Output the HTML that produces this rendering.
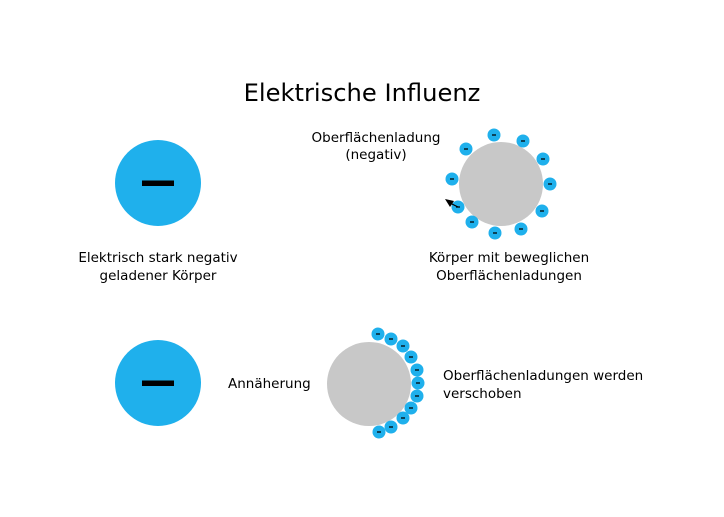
<!DOCTYPE html>
<html><head><style>body{margin:0;background:#fff}</style></head><body>
<svg width="724" height="512" xmlns="http://www.w3.org/2000/svg" font-family="'DejaVu Sans','Liberation Sans',sans-serif">
<rect width="724" height="512" fill="#fff"/>
<text x="362" y="101" font-size="24.2" text-anchor="middle" fill="#000">Elektrische Influenz</text>
<circle cx="158" cy="183" r="43" fill="#1fb0ec"/>
<rect x="142" y="180.5" width="32" height="5.5" fill="#000"/>
<circle cx="158" cy="383" r="43" fill="#1fb0ec"/>
<rect x="142" y="380.5" width="32" height="5.5" fill="#000"/>
<g font-size="13.5" text-anchor="middle" fill="#000">
<text x="158" y="262">Elektrisch stark negativ</text>
<text x="158" y="280">geladener Körper</text>
<text x="376" y="142">Oberflächenladung</text>
<text x="376" y="159">(negativ)</text>
<text x="509" y="262">Körper mit beweglichen</text>
<text x="509" y="280">Oberflächenladungen</text>
</g>
<g font-size="13.5" fill="#000">
<text x="228" y="388">Annäherung</text>
<text x="443" y="380">Oberflächenladungen werden</text>
<text x="443" y="398">verschoben</text>
</g>
<circle cx="501" cy="184" r="42" fill="#c8c8c8"/>
<circle cx="369" cy="384" r="42" fill="#c8c8c8"/>
<g fill="#1fb0ec">
<circle cx="494" cy="135" r="6.5"/><circle cx="523" cy="141" r="6.5"/><circle cx="543" cy="159" r="6.5"/><circle cx="550" cy="184" r="6.5"/><circle cx="542" cy="211" r="6.5"/><circle cx="521" cy="229" r="6.5"/><circle cx="495" cy="233" r="6.5"/><circle cx="472" cy="222" r="6.5"/><circle cx="458" cy="207" r="6.5"/><circle cx="452" cy="179" r="6.5"/><circle cx="466" cy="149" r="6.5"/>
<circle cx="378" cy="334" r="6.5"/><circle cx="391" cy="339" r="6.5"/><circle cx="403" cy="346" r="6.5"/><circle cx="411" cy="357" r="6.5"/><circle cx="417" cy="370" r="6.5"/><circle cx="418" cy="383" r="6.5"/><circle cx="417" cy="396" r="6.5"/><circle cx="411" cy="408" r="6.5"/><circle cx="403" cy="418" r="6.5"/><circle cx="391" cy="427" r="6.5"/><circle cx="379" cy="432" r="6.5"/>
</g>
<g stroke="#000" stroke-width="1.2">
<path d="M492 135h4M521 141h4M541 159h4M548 184h4M540 211h4M519 229h4M493 233h4M470 222h4M456 207h4M450 179h4M464 149h4"/>
<path d="M376 334h4M389 339h4M401 346h4M409 357h4M415 370h4M416 383h4M415 396h4M409 408h4M401 418h4M389 427h4M377 432h4"/>
</g>
<path d="M445 199 L454 201 L450 207 Z" fill="#000"/>
<line x1="450" y1="203" x2="458" y2="207" stroke="#000" stroke-width="1.2"/>
</svg>
</body></html>
